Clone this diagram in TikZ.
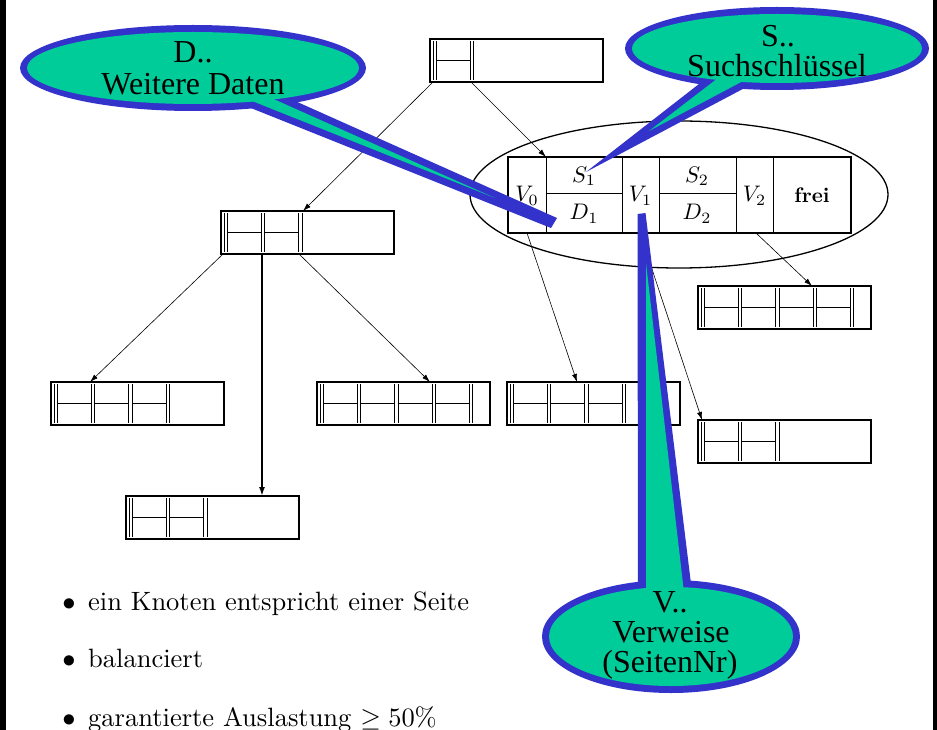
\documentclass[tikz,border=0pt]{standalone}
\usepackage{fontspec}
\usepackage{graphicx}
\usetikzlibrary{arrows.meta,calc}
\newfontfamily\calloutfont{Liberation Serif}
\definecolor{cblue}{RGB}{51,51,204}
\definecolor{cgreen}{RGB}{0,204,153}
\tikzset{
  pagebox/.style={draw, line width=1.2pt, minimum width=173pt, minimum height=43pt, inner sep=0pt, outer sep=0pt, anchor=north west},
  cellline/.style={line width=0.7pt},
  treeedge/.style={line width=0.6pt, -{Latex[length=8pt,width=5pt]}},
  thickedge/.style={line width=1.6pt, -{Latex[length=9pt,width=6pt]}},
  ctext/.style={anchor=base, inner sep=0pt, font=\calloutfont\fontsize{32}{32}\selectfont},
  mtext/.style={anchor=base, inner sep=0pt},
  btext/.style={anchor=base west, inner sep=0pt}
}
\newcommand{\bpage}[4]{%
  \node[pagebox] (#1) at (#2,#3) {};
  \foreach \k in {0,...,#4}{
    \pgfmathsetmacro\xa{#2+3+37.3*\k}
    \pgfmathsetmacro\xb{\xa+3.5}
    \draw[cellline] (\xa,#3+2) -- (\xa,#3+41);
    \draw[cellline] (\xb,#3+2) -- (\xb,#3+41);
  }
  \foreach \k in {1,...,#4}{
    \pgfmathsetmacro\xa{#2+6.5+37.3*(\k-1)}
    \pgfmathsetmacro\xb{#2+3+37.3*\k}
    \draw[cellline] (\xa,#3+21.5) -- (\xb,#3+21.5);
  }
}
\begin{document}
\begin{tikzpicture}[x=1pt,y=-1pt]
\useasboundingbox (0,0) rectangle (937,730);
\fill[white] (0,0) rectangle (937,730);
\fill[black] (0,0) rectangle (6,730);
\fill[black] (933,0) rectangle (937,730);

% pages
\bpage{root}{430}{39}{1}
\bpage{L2}{221}{211}{2}
\bpage{A}{51}{382}{3}
\bpage{B}{317}{382}{4}
\bpage{C}{507}{382}{3}
\bpage{D}{698}{286}{4}
\bpage{E}{698}{420}{2}
\bpage{F}{126}{496}{2}

% highlighted node
\node[draw, line width=1.3pt, minimum width=343pt, minimum height=76pt, anchor=north west, inner sep=0pt, outer sep=0pt] (hl) at (508,157) {};
\foreach \xx in {546,622,659,736,773}{\draw[cellline] (\xx,157) -- (\xx,233);}
\draw[cellline] (546,193) -- (622,193);
\draw[cellline] (659,193) -- (736,193);
\node[mtext] (v0) at (527,202) {\scalebox{2.25}{$V_0$}};
\node[mtext] (s1) at (584,182.5) {\scalebox{2.25}{$S_1$}};
\node[mtext] (d1) at (584,220) {\scalebox{2.25}{$D_1$}};
\node[mtext] (v1) at (640.5,202) {\scalebox{2.25}{$V_1$}};
\node[mtext] (s2) at (697,182.5) {\scalebox{2.25}{$S_2$}};
\node[mtext] (d2) at (697,220) {\scalebox{2.25}{$D_2$}};
\node[mtext] (v2) at (754.5,202) {\scalebox{2.25}{$V_2$}};
\node[mtext] (frei) at (812,202.5) {\scalebox{2.1}{\textbf{frei}}};
\draw[line width=1.3pt] (679,194.5) ellipse [x radius=209pt, y radius=73.5pt];

% tree edges
\draw[treeedge] ([xshift=41pt]root.south west) -- ([xshift=38pt]hl.north west);
\draw[treeedge] ([xshift=3pt]root.south west) -- ([xshift=82pt]L2.north west);
\draw[treeedge] ([xshift=2pt]L2.south west) -- ([xshift=39pt]A.north west);
\draw[thickedge] ([xshift=41pt]L2.south west) -- ([xshift=136pt]F.north west);
\draw[treeedge] ([xshift=78pt]L2.south west) -- ([xshift=113pt]B.north west);
\draw[treeedge] ([xshift=19pt]hl.south west) -- ([xshift=70pt]C.north west);
\draw[treeedge] ([xshift=132pt]hl.south west) -- ([xshift=4pt]E.north west);
\draw[treeedge] ([xshift=248pt]hl.south west) -- ([xshift=114pt]D.north west);

% bullets
\node[mtext] (u1) at (69,610) {\scalebox{2.65}{$\bullet$}};
\node[btext] (b1) at (88,610) {\scalebox{2.65}{ein Knoten entspricht einer Seite}};
\node[mtext] (u2) at (69,667) {\scalebox{2.65}{$\bullet$}};
\node[btext] (b2) at (88,667) {\scalebox{2.65}{balanciert}};
\node[mtext] (u3) at (69,726) {\scalebox{2.65}{$\bullet$}};
\node[btext] (b3) at (88,726) {\scalebox{2.65}{garantierte Auslastung $\geq 50\%$}};

% callout D
\fill[cblue] (270,89.8) -- (557,218) -- (551,228) -- (230,99.7) -- cycle;
\fill[cblue] (193,68) ellipse [x radius=173pt, y radius=43pt];
\fill[cgreen] (265,95.2) -- (495,198) -- (235,94.2) -- cycle;
\fill[cgreen] (193,68) ellipse [x radius=166pt, y radius=36pt];
\node[ctext] (dA) at (193,63) {D..};
\node[ctext] (dB) at (193,95) {Weitere Daten};

% callout S
\fill[cblue] (722.6,65.6) -- (586,172) -- (766.4,76.5) -- cycle;
\fill[cblue] (777,48.5) ellipse [x radius=152pt, y radius=41.5pt];
\fill[cgreen] (724.1,73.3) -- (649,131) -- (757.4,73.4) -- cycle;
\fill[cgreen] (777,48.5) ellipse [x radius=145pt, y radius=34.5pt];
\node[ctext] (sA) at (778,47) {S..};
\node[ctext] (sB) at (777,77) {Suchschlüssel};

% callout V
\fill[cblue] (637.5,214) -- (645.5,213) -- (693,600) -- (638,600) -- cycle;
\fill[cblue] (671,636.5) ellipse [x radius=129pt, y radius=56.5pt];
\fill[cgreen] (646,263) -- (686,610) -- (646,610) -- cycle;
\fill[cgreen] (671,636.5) ellipse [x radius=122pt, y radius=49.5pt];
\node[ctext] (vA) at (670,612) {V..};
\node[ctext] (vB) at (671,642) {Verweise};
\node[ctext] (vC) at (670,672) {(SeitenNr)};
\end{tikzpicture}
\end{document}
